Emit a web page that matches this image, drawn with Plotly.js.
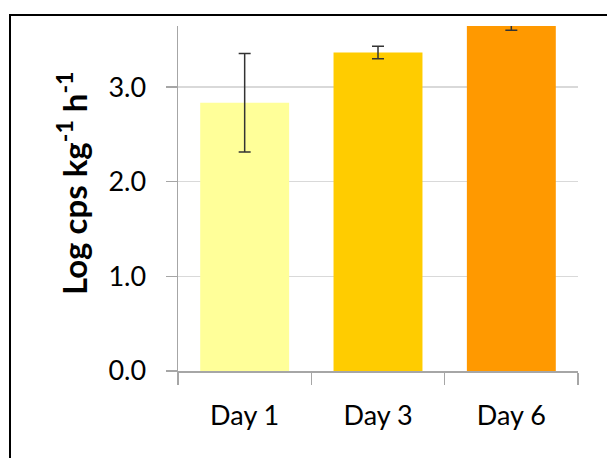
<!DOCTYPE html>
<html>
<head>
<meta charset="utf-8">
<script src="https://cdn.plot.ly/plotly-3.0.1.min.js"></script>
<style>
html,body{margin:0;padding:0;background:#fff;overflow:hidden;}
#chart{width:607px;height:458px;position:absolute;left:0;top:0;}
#frame{position:absolute;left:9px;top:14px;width:700px;height:600px;border-left:2.5px solid #000;border-top:2.5px solid #000;pointer-events:none;}
</style>
</head>
<body>
<div id="chart"></div>
<div id="frame"></div>
<script>
const categories = ['Day 1', 'Day 3', 'Day 6'];
const values = [2.835, 3.365, 3.66];
const errors = [0.52, 0.065, 0.06];
const barColors = ['#FFFF99', '#FFCC00', '#FF9900'];
const yTickVals = [0, 1, 2, 3];
const yTickText = ['0.0', '1.0', '2.0', '3.0'];
const yTitle = 'Log cps kg<sup>-1</sup> h<sup>-1</sup>';

const fontFam = 'Lato, "Open Sans", sans-serif';

Plotly.newPlot('chart', [{
  type: 'bar',
  x: categories,
  y: values,
  marker: {color: barColors, line: {width: 0}},
  error_y: {type: 'data', array: errors, visible: true, color: '#333333', thickness: 1.5, width: 6},
  hoverinfo: 'none'
}], {
  width: 607, height: 458,
  margin: {l: 178, r: 29, t: 26, b: 87, pad: 0},
  paper_bgcolor: '#ffffff', plot_bgcolor: '#ffffff',
  showlegend: false,
  bargap: 0.333,
  xaxis: {
    type: 'category',
    tickson: 'boundaries',
    ticks: 'outside', ticklen: 12, tickwidth: 1.5, tickcolor: '#a6a6a6',
    showline: true, linecolor: '#a6a6a6', linewidth: 1.5,
    showgrid: false,
    tickfont: {family: fontFam, size: 27, color: '#000'},
    ticklabelstandoff: 20,
    fixedrange: true
  },
  yaxis: {
    range: [0, 3.645],
    tickvals: yTickVals, ticktext: yTickText,
    ticks: 'outside', ticklen: 11, tickwidth: 1.5, tickcolor: '#a6a6a6',
    showline: true, linecolor: '#a6a6a6', linewidth: 1.5,
    showgrid: true, gridcolor: '#d9d9d9', gridwidth: 1.5,
    zeroline: false,
    tickfont: {family: fontFam, size: 27, color: '#000'},
    ticklabelstandoff: 14,
    fixedrange: true
  },
  annotations: [{
    text: yTitle,
    xref: 'paper', yref: 'paper',
    x: -0.265, y: 0.542,
    xanchor: 'center', yanchor: 'middle',
    textangle: -90,
    showarrow: false,
    font: {family: fontFam, size: 33, color: '#000', weight: 'bold'}
  }]
}, {staticPlot: true, displayModeBar: false});
</script>
</body>
</html>
